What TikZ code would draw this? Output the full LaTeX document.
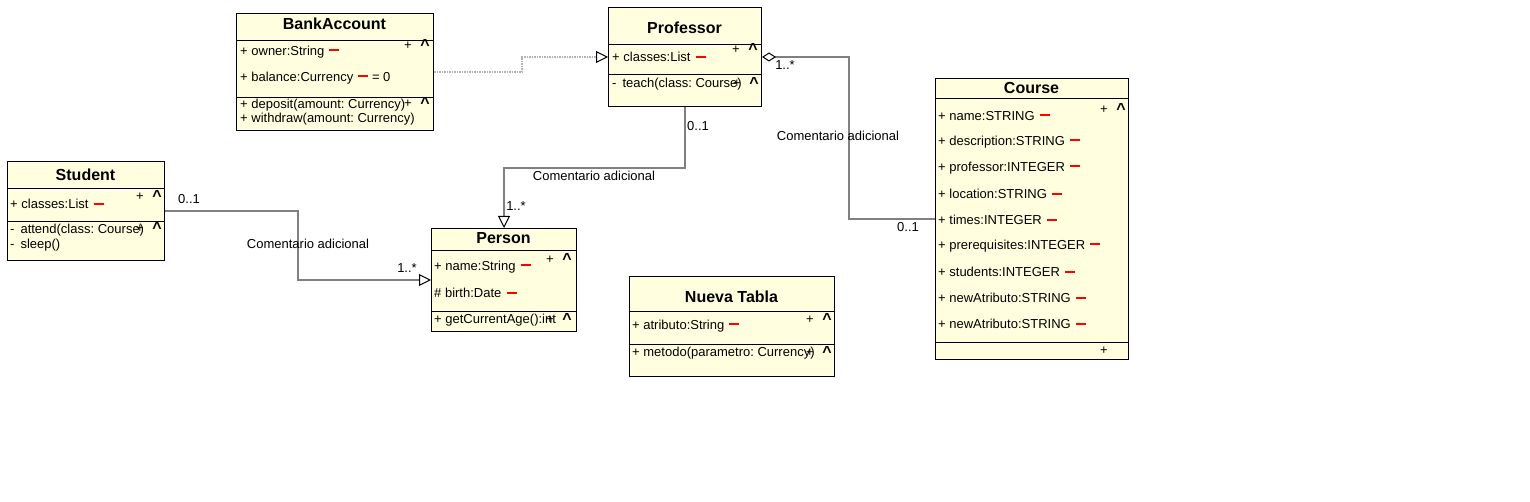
\documentclass[tikz,border=0pt]{standalone}
\usepackage{fontspec}
\setmainfont{Liberation Sans}
\usetikzlibrary{arrows.meta}
\definecolor{umlyellow}{HTML}{FFFFE0}
\newcommand{\rdash}{\hspace{1.5pt}\textcolor{red}{\rule[4pt]{10pt}{2pt}}}
\frenchspacing
\tikzset{
  umlbox/.style={draw, fill=umlyellow, anchor=north west, inner sep=0pt, line width=1pt},
  umltitle/.style={font=\fontsize{16}{18}\selectfont\bfseries},
  member/.style={anchor=west, inner sep=0pt, font=\fontsize{13}{15}\selectfont},
  tool/.style={inner sep=0pt, font=\fontsize{13}{15}\selectfont},
  caret/.style={inner sep=0pt, font=\fontsize{16}{16}\selectfont\bfseries},
  assoc/.style={draw=gray, line width=2pt},
  hollow/.style={-{Triangle[open,length=12pt,width=12pt,color=black,line width=1pt]}},
}
\begin{document}
\begin{tikzpicture}[x=1pt,y=-1pt]
  \useasboundingbox (0,0) rectangle (1530,502);
  % classes
  \node [umlbox, minimum width=197pt, minimum height=117pt] (bank) at (236,13) {};
  \node [umltitle] (bankt) at (334.5,24) {BankAccount};
  \draw (236,40) -- (433,40) (236,97) -- (433,97);
  \node [member] (bank1) at (240,52) {+ owner:String \rdash};
  \node [member] (bank2) at (240,78) {+ balance:Currency \rdash{} = 0};
  \node [member] (bank3) at (240,105) {+ deposit(amount: Currency)};
  \node [member] (bank4) at (240,119) {+ withdraw(amount: Currency)};

  \node [umlbox, minimum width=153pt, minimum height=99pt] (prof) at (608,7) {};
  \node [umltitle] (proft) at (684.5,28) {Professor};
  \draw (608,44) -- (761,44) (608,74) -- (761,74);
  \node [member] (prof1) at (612,57) {+ classes:List \rdash};
  \node [member] (prof2) at (612,84) {-\hspace{6pt}teach(class: Course)};

  \node [umlbox, minimum width=193pt, minimum height=281pt] (course) at (935,78) {};
  \node [umltitle] (courset) at (1031.5,88) {Course};
  \draw (935,98) -- (1128,98) (935,342) -- (1128,342);
  \foreach \m [count=\i] in {name:STRING, description:STRING, professor:INTEGER,
      location:STRING, times:INTEGER, prerequisites:INTEGER, students:INTEGER,
      newAtributo:STRING, newAtributo:STRING}
    \node [member] (course\i) at (938,90+26*\i) {+ \m\ \rdash};

  \node [umlbox, minimum width=157pt, minimum height=99pt] (student) at (7,161) {};
  \node [umltitle] (studentt) at (85.5,175) {Student};
  \draw (7,188) -- (164,188) (7,221) -- (164,221);
  \node [member] (student1) at (10,204) {+ classes:List \rdash};
  \node [member] (student2) at (10,230) {-\hspace{6pt}attend(class: Course)};
  \node [member] (student3) at (10,245) {-\hspace{6pt}sleep()};

  \node [umlbox, minimum width=145pt, minimum height=103pt] (person) at (431,228) {};
  \node [umltitle] (persont) at (503.5,238) {Person};
  \draw (431,250) -- (576,250) (431,311) -- (576,311);
  \node [member] (person1) at (434,267) {+ name:String \rdash};
  \node [member] (person2) at (434,293) {\# birth:Date \rdash};
  \node [member] (person3) at (434,320) {+ getCurrentAge():int};

  \node [umlbox, minimum width=205pt, minimum height=100pt] (tabla) at (629,276) {};
  \node [umltitle] (tablat) at (731.5,297) {Nueva Tabla};
  \draw (629,311) -- (834,311) (629,344) -- (834,344);
  \node [member] (tabla1) at (632,326) {+ atributo:String \rdash};
  \node [member] (tabla2) at (632,353) {+ metodo(parametro: Currency)};

  % add / collapse marks
  \foreach \cx/\cy [count=\k] in {408/46,408/104,736/50,737/84,1104/110,140/197,
      140/229,550/260,550/320,810/320,810/353} {
    \node [tool] (plus\k) at (\cx,\cy) {+};
    \node [caret] (up\k) at (\cx+17,\cy-1) {\textasciicircum};
  }
  \node [tool] (plus12) at (1104,351) {+};

  % relations
  \draw [gray!60, densely dotted, line width=1.5pt, hollow] (bank.east) -- ++(88,0) |- (prof.west);
  \draw [assoc, {Diamond[open,length=14pt,width=9pt,color=black,line width=1pt]}-] (prof.east) -- ++(87,0) |- (course.west);
  \draw [assoc, hollow] (prof.south) -- ++(0,61) -| (person.north);
  \draw [assoc, hollow] (student.east) -- ++(133,0) |- (person.west);

  \node [tool] (pc1) at (785,65) {1..*};
  \node [tool] (pc2) at (908,227) {0..1};
  \node [tool] (pc3) at (838,136) {Comentario adicional};
  \node [tool] (pp1) at (698,126) {0..1};
  \node [tool] (pp2) at (516,206) {1..*};
  \node [tool] (pp3) at (594,176) {Comentario adicional};
  \node [tool] (sp1) at (189,199) {0..1};
  \node [tool] (sp2) at (407,268) {1..*};
  \node [tool] (sp3) at (308,244) {Comentario adicional};
\end{tikzpicture}
\end{document}
